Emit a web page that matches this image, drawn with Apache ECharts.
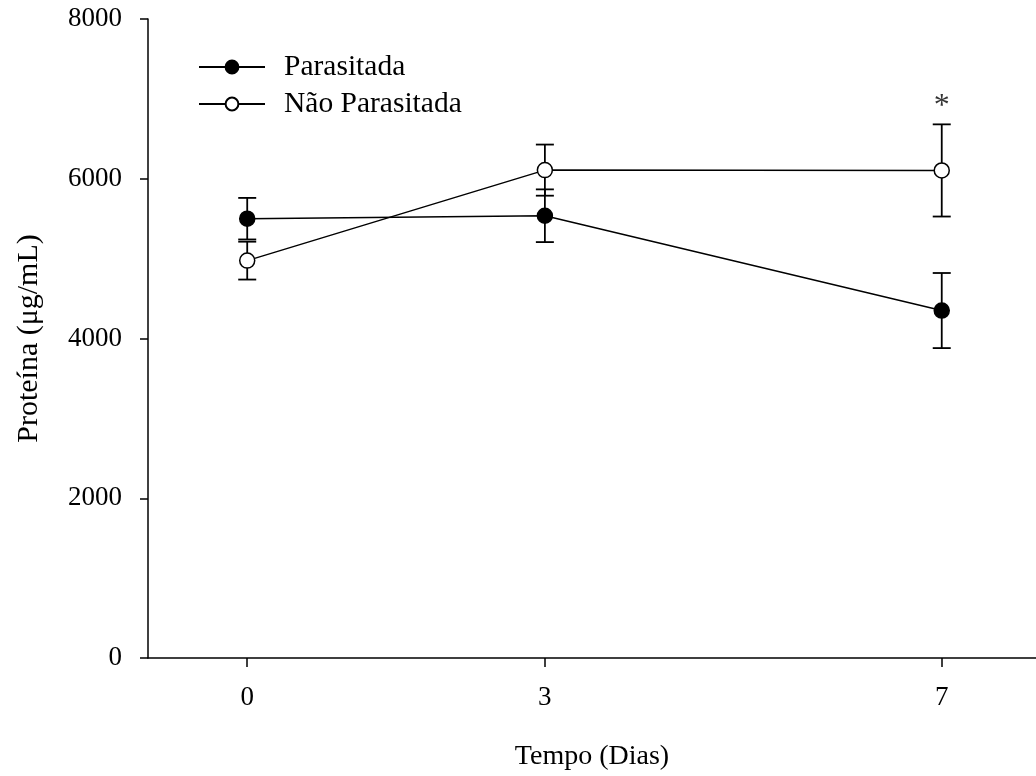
<!DOCTYPE html>
<html>
<head>
<meta charset="utf-8">
<script src="https://cdn.jsdelivr.net/npm/echarts@6/dist/echarts.min.js"></script>
<style>html,body{margin:0;padding:0;background:#fff}#c{width:1036px;height:776px}</style>
</head>
<body>
<div id="c"></div>
<script>
// Data
const days = [0, 3, 7];
const dayLabels = ['0', '3', '7'];
const parasitadaMean = [5500, 5537, 4350];
const parasitadaErr = [260, 330, 470];
const naoParasitadaMean = [4975, 6108, 6104];
const naoParasitadaErr = [237, 320, 577];
const yTicks = [0, 2000, 4000, 6000, 8000];
const sigDays = [7];
const sigValues = [6900];
const sigMarks = ['*'];

const FONT = '"Liberation Serif", "Times New Roman", serif';
const chart = echarts.init(document.getElementById('c'), null, {renderer: 'canvas'});

function errData(mean, err) {
  return days.map((d, i) => [d, mean[i] - err[i], mean[i] + err[i]]);
}
function errRender(params, api) {
  const x = api.value(0);
  const lo = api.coord([x, api.value(1)]);
  const hi = api.coord([x, api.value(2)]);
  const hw = 9;
  const st = {stroke: '#000', lineWidth: 1.8};
  return {
    type: 'group',
    children: [
      {type: 'line', shape: {x1: lo[0], y1: lo[1], x2: hi[0], y2: hi[1]}, style: st},
      {type: 'line', shape: {x1: lo[0] - hw, y1: lo[1], x2: lo[0] + hw, y2: lo[1]}, style: st},
      {type: 'line', shape: {x1: hi[0] - hw, y1: hi[1], x2: hi[0] + hw, y2: hi[1]}, style: st}
    ]
  };
}

const option = {
  animation: false,
  backgroundColor: '#fff',
  grid: {left: 148, right: 0, top: 19, bottom: 117, containLabel: false},
  legend: {
    orient: 'vertical', left: 193, top: 47,
    itemWidth: 66, itemHeight: 16, itemGap: 7,
    textStyle: {fontFamily: FONT, fontSize: 29.5, color: '#000', lineHeight: 30, padding: [0, 0, 0, 14]},
    data: ['Parasitada', 'Não Parasitada']
  },
  xAxis: {
    type: 'value', min: -1, max: 7.95,
    name: 'Tempo (Dias)', nameLocation: 'middle', nameGap: 85,
    nameTextStyle: {fontFamily: FONT, fontSize: 28, color: '#000'},
    axisLine: {show: true, onZero: false, lineStyle: {color: '#000', width: 1.5}},
    axisTick: {show: true, length: 9, lineStyle: {color: '#000', width: 1.5}, customValues: days},
    axisLabel: {fontFamily: FONT, fontSize: 27, color: '#000', margin: 26, customValues: days,
      formatter: v => dayLabels[days.indexOf(v)]},
    splitLine: {show: false}
  },
  yAxis: {
    type: 'value', min: 0, max: 8000, interval: 2000,
    name: 'Proteína (μg/mL)', nameLocation: 'middle', nameGap: 104,
    nameTextStyle: {fontFamily: FONT, fontSize: 30, color: '#000'},
    axisLine: {show: true, onZero: false, lineStyle: {color: '#000', width: 1.5}},
    axisTick: {show: true, length: 8, lineStyle: {color: '#000', width: 1.5}},
    axisLabel: {fontFamily: FONT, fontSize: 27, color: '#000', margin: 26,
      formatter: v => (yTicks.indexOf(v) >= 0 ? String(v) : '')},
    splitLine: {show: false}
  },
  series: [
    {type: 'custom', name: 'errP', data: errData(parasitadaMean, parasitadaErr), renderItem: errRender, z: 1, silent: true},
    {type: 'custom', name: 'errN', data: errData(naoParasitadaMean, naoParasitadaErr), renderItem: errRender, z: 1, silent: true},
    {
      type: 'line', name: 'Parasitada', z: 3,
      data: days.map((d, i) => [d, parasitadaMean[i]]),
      symbol: 'circle', symbolSize: 15,
      lineStyle: {color: '#000', width: 1.5},
      itemStyle: {color: '#000', borderColor: '#000', borderWidth: 1.5}
    },
    {
      type: 'line', name: 'Não Parasitada', z: 3,
      data: days.map((d, i) => [d, naoParasitadaMean[i]]),
      symbol: 'circle', symbolSize: 15,
      lineStyle: {color: '#000', width: 1.5},
      itemStyle: {color: '#fff', borderColor: '#000', borderWidth: 1.5}
    },
    {
      type: 'scatter', name: 'sig', symbolSize: 0, z: 4,
      data: sigDays.map((d, i) => [d, sigValues[i]]),
      label: {show: true, position: 'inside', formatter: p => sigMarks[p.dataIndex],
        fontFamily: FONT, fontSize: 32, color: '#000'}
    }
  ]
};
chart.setOption(option);
</script>
</body>
</html>
